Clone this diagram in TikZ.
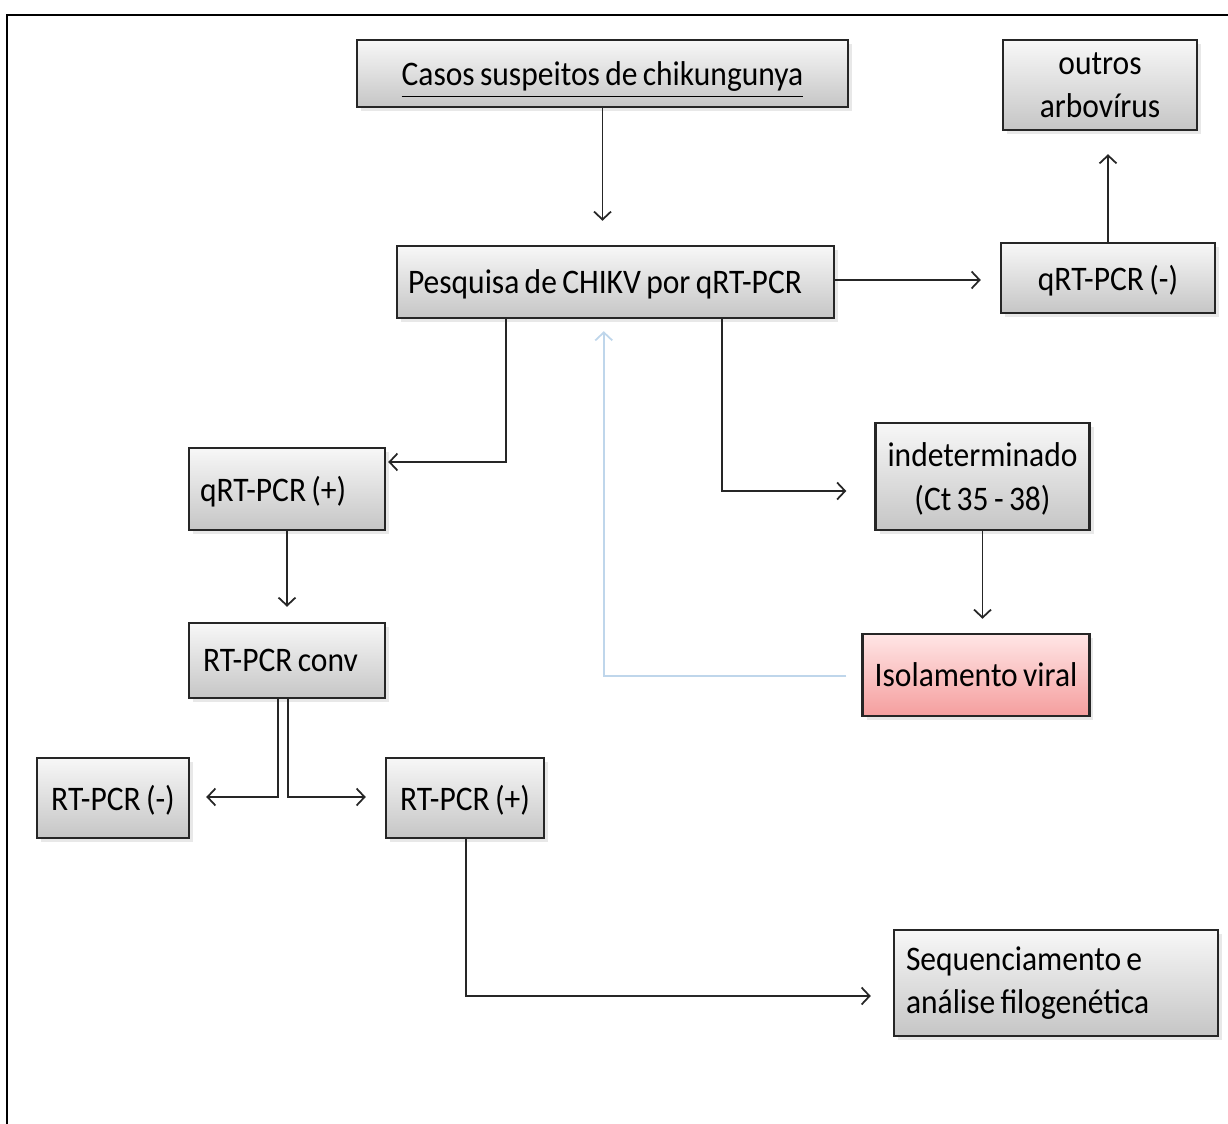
\documentclass[tikz,border=0pt]{standalone}
\usepackage{fontspec}
\setmainfont{Carlito}[FakeStretch = 0.915, WordSpace = 0.75]
\usepackage{tikz}
\usetikzlibrary{arrows.meta}
\usetikzlibrary{shadows}
\usetikzlibrary{positioning}
\tikzset{box/.style = {draw = mdark, line width = 0.7pt, inner xsep = 0.12cm, inner ysep = 0, text depth = 0pt,
    top color = gray!6, bottom color = gray!45, font = \fontsize{9.8}{12.4}\selectfont,
    drop shadow = {opacity = 0.18, shadow xshift = 0.04cm, shadow yshift = -0.04cm}}}
\tikzset{lnk/.style = {draw = mdark, line width = 0.5pt, -{Straight Barb[length = 0.8mm, width = 1.7mm]}}}
\definecolor{mdark}{rgb}{0.15, 0.15, 0.15}
\definecolor{mblue}{rgb}{0.75, 0.84, 0.92}
\definecolor{mpink}{rgb}{0.96, 0.62, 0.62}

\begin{document}
\begin{tikzpicture}
      \useasboundingbox (0, 0) rectangle (12.28, -11.24);
      \draw [line width = 0.7pt] (0.07, -11.24) -- (0.07, -0.15) -- (12.28, -0.15);

      \node [box, minimum width = 4.91cm, minimum height = 0.67cm] (casos) at (6.025, -0.735) {\underline{Casos suspeitos de chikungunya}};
      \node [box, text width = 4.15cm, minimum height = 0.72cm, align = flush left, inner xsep = 0.11cm] (pesq) at (6.155, -2.82) {Pesquisa de CHIKV por qRT-PCR};
      \node [box, minimum width = 1.94cm, minimum height = 0.90cm, align = center] (outros) at (11.0, -0.85) {outros\\arbovírus};
      \node [box, minimum width = 2.14cm, minimum height = 0.70cm] (qneg) at (11.08, -2.78) {qRT-PCR (-)};
      \node [box, text width = 1.74cm, minimum height = 0.82cm, align = flush left, inner xsep = 0.11cm] (qpos) at (2.87, -4.89) {qRT-PCR (+)};
      \node [box, minimum width = 2.13cm, minimum height = 1.07cm, align = center] (indet) at (9.825, -4.765) {indeterminado\\(Ct 35 - 38)};
      \node [box, minimum width = 2.26cm, minimum height = 0.82cm, top color = red!10, bottom color = mpink] (isol) at (9.76, -6.75) {Isolamento viral};
      \node [box, text width = 1.68cm, minimum height = 0.75cm, align = flush left, inner xsep = 0.14cm] (conv) at (2.87, -6.605) {RT-PCR conv};
      \node [box, minimum width = 1.52cm, minimum height = 0.80cm] (rneg) at (1.13, -7.98) {RT-PCR (-)};
      \node [box, minimum width = 1.58cm, minimum height = 0.80cm] (rpos) at (4.65, -7.98) {RT-PCR (+)};
      \node [box, text width = 3.00cm, minimum height = 1.06cm, align = flush left, text depth = {}] (seq) at (10.56, -9.83) {Sequenciamento e\\análise filogenética};

      \draw [lnk, shorten >= 0.24cm] (casos.south) -- (casos.south |- pesq.north);
      \draw [lnk, shorten >= 0.19cm] ([yshift = 0.02cm] pesq.east) -- ([yshift = 0.02cm] qneg.west |- pesq.east);
      \draw [lnk, shorten >= 0.23cm] (qneg.north) -- (qneg.north |- outros.south);

      \draw [lnk, shorten >= 0.02cm] ([xshift = 1.10cm] pesq.south west) |- ([yshift = 0.27cm] qpos.east);
      \draw [lnk, shorten >= 0.28cm] ([xshift = 3.26cm] pesq.south west) |- ([yshift = -0.145cm] indet.west);

      \draw [lnk, shorten >= 0.15cm] (qpos.south) -- (conv.north);
      \draw [lnk, shorten >= 0.16cm] ([xshift = -0.09cm] conv.south) |- ([yshift = 0.01cm] rneg.east);
      \draw [lnk, shorten >= 0.19cm] ([xshift = 0.01cm] conv.south) |- ([yshift = 0.01cm] rpos.west);

      \draw [lnk, shorten >= 0.14cm] (indet.south) -- (indet.south |- isol.north);
      \draw [lnk, draw = mblue, shorten <= 0.15cm, shorten >= 0.12cm] ([yshift = -0.01cm] isol.west) -| ([xshift = 2.08cm] pesq.south west);

      \draw [lnk, shorten >= 0.22cm] ([xshift = 0.01cm] rpos.south) |- ([yshift = -0.13cm] seq.west);
    \end{tikzpicture}
\end{document}
